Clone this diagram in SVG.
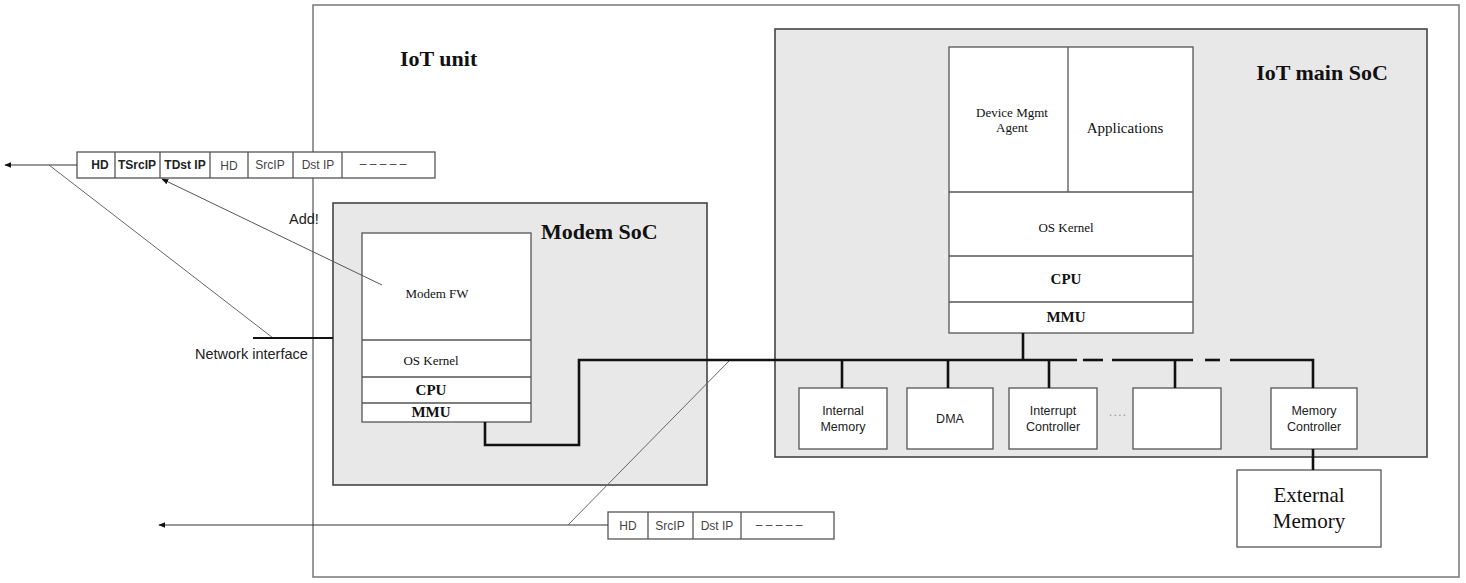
<svg xmlns="http://www.w3.org/2000/svg" width="1466" height="583" viewBox="0 0 1466 583">
<defs>
<style>
.box{fill:#fff;stroke:#555;stroke-width:1.3}
.soc{fill:#e8e8e8;stroke:#444;stroke-width:1.6}
.div{stroke:#555;stroke-width:1.3;fill:none}
.thin{stroke:#666;stroke-width:1;fill:none}
.bus{stroke:#111;stroke-width:2.6;fill:none}
.serif{font-family:"Liberation Serif","Times New Roman",serif;fill:#111}
.sans{font-family:"Liberation Sans",Arial,sans-serif;fill:#222}
.title{font-weight:bold;font-size:22px}
.layer{font-size:13px}
.hw{font-size:15px;font-weight:bold}
.sm{font-size:12.5px}
.pk{font-size:12px}
</style>
<marker id="arr" viewBox="0 0 10 10" refX="9" refY="5" markerWidth="7" markerHeight="7" orient="auto-start-reverse" markerUnits="userSpaceOnUse">
<path d="M0,1 L10,5 L0,9 z" fill="#111"/>
</marker>
</defs>
<rect width="1466" height="583" fill="#fff"/>

<g id="iot-unit">
<rect x="313" y="5" width="1146" height="572" fill="#fff" stroke="#777" stroke-width="1.5"/>
<text class="serif title" x="400" y="66">IoT unit</text>
</g>

<g id="modem-soc">
<rect class="soc" x="333" y="203" width="374" height="282"/>
<text class="serif title" x="541" y="239">Modem SoC</text>
</g>
<g id="modem-stack">
<rect class="box" x="362" y="233" width="169" height="189"/>
<line class="div" x1="362" y1="340" x2="531" y2="340"/>
<line class="div" x1="362" y1="377" x2="531" y2="377"/>
<line class="div" x1="362" y1="403" x2="531" y2="403"/>
<text class="serif layer" x="437" y="298" text-anchor="middle">Modem FW</text>
<text class="serif layer" x="431" y="365" text-anchor="middle">OS Kernel</text>
<text class="serif hw" x="431" y="395" text-anchor="middle">CPU</text>
<text class="serif hw" x="431" y="417" text-anchor="middle">MMU</text>
</g>

<g id="main-soc">
<rect class="soc" x="775" y="29" width="652" height="428"/>
<text class="serif title" x="1322" y="80" text-anchor="middle">IoT main SoC</text>
</g>
<g id="main-stack">
<rect class="box" x="949" y="47" width="244" height="286"/>
<line class="div" x1="1068" y1="47" x2="1068" y2="192"/>
<line class="div" x1="949" y1="192" x2="1193" y2="192"/>
<line class="div" x1="949" y1="256" x2="1193" y2="256"/>
<line class="div" x1="949" y1="302" x2="1193" y2="302"/>
<text class="serif layer" x="1012" y="117" text-anchor="middle">Device Mgmt</text>
<text class="serif layer" x="1012" y="132" text-anchor="middle">Agent</text>
<text class="serif" x="1125" y="133" text-anchor="middle" style="font-size:15px">Applications</text>
<text class="serif layer" x="1066" y="232" text-anchor="middle">OS Kernel</text>
<text class="serif hw" x="1066" y="284" text-anchor="middle">CPU</text>
<text class="serif hw" x="1066" y="322" text-anchor="middle">MMU</text>
</g>

<g id="internal-memory">
<rect class="box" x="799" y="388" width="88" height="61"/>
<text class="sans sm" x="843" y="415" text-anchor="middle">Internal</text>
<text class="sans sm" x="843" y="431" text-anchor="middle">Memory</text>
</g>
<g id="dma">
<rect class="box" x="907" y="388" width="86" height="61"/>
<text class="sans sm" x="950" y="423" text-anchor="middle">DMA</text>
</g>
<g id="interrupt-controller">
<rect class="box" x="1009" y="388" width="88" height="61"/>
<text class="sans sm" x="1053" y="415" text-anchor="middle">Interrupt</text>
<text class="sans sm" x="1053" y="431" text-anchor="middle">Controller</text>
</g>
<g id="ellipsis">
<text class="sans" x="1118" y="416" text-anchor="middle" style="font-size:13px;fill:#999;letter-spacing:1px">....</text>
</g>
<g id="blank-block">
<rect class="box" x="1133" y="388" width="88" height="61"/>
</g>
<g id="memory-controller">
<rect class="box" x="1271" y="388" width="86" height="61"/>
<text class="sans sm" x="1314" y="415" text-anchor="middle">Memory</text>
<text class="sans sm" x="1314" y="431" text-anchor="middle">Controller</text>
</g>
<g id="external-memory">
<rect class="box" x="1237" y="470" width="144" height="77"/>
<text class="serif" x="1309" y="502" text-anchor="middle" style="font-size:21px">External</text>
<text class="serif" x="1309" y="528" text-anchor="middle" style="font-size:21px">Memory</text>
</g>

<g id="packet-tunnel">
<rect class="box" x="77" y="152" width="358" height="26"/>
<line class="div" x1="115" y1="152" x2="115" y2="178"/>
<line class="div" x1="160" y1="152" x2="160" y2="178"/>
<line class="div" x1="210" y1="152" x2="210" y2="178"/>
<line class="div" x1="248" y1="152" x2="248" y2="178"/>
<line class="div" x1="293" y1="152" x2="293" y2="178"/>
<line class="div" x1="342" y1="152" x2="342" y2="178"/>
<text class="sans pk" x="100" y="169" text-anchor="middle" font-weight="bold">HD</text>
<text class="sans pk" x="137" y="169" text-anchor="middle" font-weight="bold">TSrcIP</text>
<text class="sans pk" x="185" y="169" text-anchor="middle" font-weight="bold">TDst IP</text>
<text class="sans pk" x="229" y="170" text-anchor="middle" style="fill:#444">HD</text>
<text class="sans pk" x="270" y="169" text-anchor="middle" style="fill:#444">SrcIP</text>
<text class="sans pk" x="318" y="169" text-anchor="middle" style="fill:#444">Dst IP</text>
<text class="sans pk" x="383" y="168" text-anchor="middle" style="fill:#444">– – – – –</text>
</g>

<g id="packet-plain">
<rect class="box" x="608" y="512" width="226" height="27"/>
<line class="div" x1="648" y1="512" x2="648" y2="539"/>
<line class="div" x1="693" y1="512" x2="693" y2="539"/>
<line class="div" x1="741" y1="512" x2="741" y2="539"/>
<text class="sans pk" x="628" y="530" text-anchor="middle" style="fill:#444">HD</text>
<text class="sans pk" x="670" y="530" text-anchor="middle" style="fill:#444">SrcIP</text>
<text class="sans pk" x="717" y="530" text-anchor="middle" style="fill:#444">Dst IP</text>
<text class="sans pk" x="779" y="529" text-anchor="middle" style="fill:#444">– – – – –</text>
</g>

<g id="labels">
<text class="sans" x="289" y="224" style="font-size:14.5px">Add!</text>
<text class="sans" x="195" y="359" style="font-size:14.5px">Network interface</text>
</g>

<g id="connectors">
<line x1="77" y1="165" x2="5" y2="165" stroke="#333" stroke-width="1" marker-end="url(#arr)"/>
<line class="thin" x1="273" y1="338" x2="49" y2="165"/>
<line x1="382" y1="285" x2="162" y2="179" stroke="#555" stroke-width="1" marker-end="url(#arr)"/>
<line x1="253" y1="338" x2="333" y2="338" stroke="#111" stroke-width="2.2"/>
<line x1="608" y1="525" x2="159" y2="525" stroke="#333" stroke-width="1" marker-end="url(#arr)"/>
<line class="thin" x1="568" y1="525" x2="730" y2="360"/>
<polyline class="bus" points="485,422 485,445 579,445 579,360 1077,360"/>
<line class="bus" x1="1083" y1="360" x2="1103" y2="360"/>
<line class="bus" x1="1112" y1="360" x2="1193" y2="360"/>
<line class="bus" x1="1205" y1="360" x2="1220" y2="360"/>
<polyline class="bus" points="1230,360 1313,360 1313,388"/>
<line class="bus" x1="1023" y1="333" x2="1023" y2="360"/>
<line class="bus" x1="842" y1="360" x2="842" y2="388"/>
<line class="bus" x1="948" y1="360" x2="948" y2="388"/>
<line class="bus" x1="1049" y1="360" x2="1049" y2="388"/>
<line class="bus" x1="1175" y1="360" x2="1175" y2="388"/>
<line class="bus" x1="1313" y1="449" x2="1313" y2="470"/>
</g>
</svg>
